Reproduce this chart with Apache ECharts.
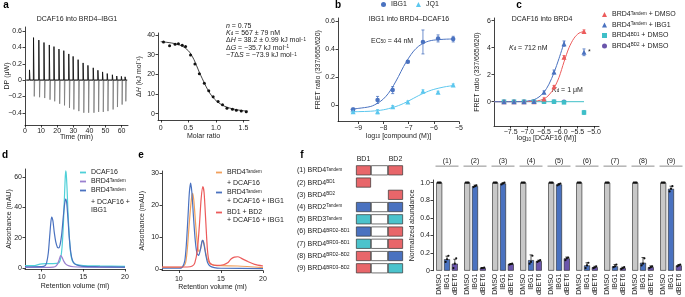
<!DOCTYPE html>
<html><head><meta charset="utf-8">
<script src="https://cdn.jsdelivr.net/npm/echarts@6/dist/echarts.min.js"></script>
<style>html,body{margin:0;padding:0;background:#fff}#c{width:685px;height:297px}</style>
</head><body><div id="c"></div>
<script>
// ================= DATA =================
// a (left): ITC raw trace, injections
const itcStart = 0.8, itcEnd = 63.5;
const itcInjTime = [2.7, 5.2, 8.5, 11.7, 15.0, 17.9, 21.0, 24.0, 27.1, 29.8, 32.9, 36.0, 39.0, 42.3, 45.2, 48.1, 51.0, 54.2, 56.9, 59.8, 62.1];
const itcUp = [0.125, 0.52, 0.49, 0.46, 0.43, 0.41, 0.38, 0.36, 0.32, 0.29, 0.25, 0.21, 0.18, 0.15, 0.12, 0.10, 0.08, 0.065, 0.05, 0.045, 0.04];
const itcDown = [-0.02, -0.20, -0.21, -0.22, -0.24, -0.26, -0.29, -0.31, -0.34, -0.36, -0.38, -0.40, -0.40, -0.40, -0.39, -0.39, -0.38, -0.36, -0.33, -0.30, -0.26];
// a (right): integrated heats
const dhRatio = [0.05, 0.16, 0.26, 0.32, 0.39, 0.45, 0.54, 0.62, 0.70, 0.79, 0.87, 0.95, 1.04, 1.12, 1.20, 1.30, 1.37, 1.46, 1.55];
const dhValue = [36.4, 34.5, 35.3, 35.5, 34.8, 34.1, 29.8, 25.2, 20.3, 15.5, 11.7, 8.6, 6.2, 4.5, 2.8, 2.2, 1.7, 1.4, 1.0];
const dhFitRatio = [0, 0.1, 0.2, 0.3, 0.4, 0.5, 0.55, 0.6, 0.65, 0.7, 0.75, 0.8, 0.85, 0.9, 0.95, 1.0, 1.1, 1.2, 1.3, 1.4, 1.5, 1.58];
const dhFitValue = [36.6, 36.3, 35.9, 35.3, 34.2, 32.0, 30.1, 27.6, 24.4, 21.0, 18.0, 15.0, 12.3, 10.0, 8.2, 6.7, 4.6, 3.3, 2.5, 1.9, 1.5, 1.3];
// b: TR-FRET, IBG1 / JQ1
const bLogConc = [-9.2, -8.23, -7.63, -7.03, -6.43, -5.83, -5.23];
const bIBG1 = [-0.03, 0.038, 0.108, 0.31, 0.45, 0.475, 0.47];
const bIBG1Err = [0.01, 0.025, 0.025, 0.008, 0.085, 0.025, 0.02];
const bJQ1 = [-0.045, -0.045, -0.01, 0.023, 0.10, 0.092, 0.144];
const bJQ1Err = [0.008, 0.015, 0.008, 0.008, 0.01, 0.008, 0.008];
const bFitX = [-9.3, -9.0, -8.5, -8.2, -8.0, -7.8, -7.6, -7.4, -7.2, -7.0, -6.8, -6.6, -6.4, -6.2, -6.0, -5.6, -5.23];
const bIBG1Fit = [-0.028, -0.022, -0.008, 0.018, 0.045, 0.085, 0.14, 0.205, 0.275, 0.335, 0.385, 0.42, 0.442, 0.456, 0.463, 0.469, 0.471];
const bJQ1Fit = [-0.046, -0.045, -0.042, -0.037, -0.032, -0.024, -0.014, -0.002, 0.013, 0.031, 0.05, 0.069, 0.086, 0.101, 0.113, 0.13, 0.14];
// c: TR-FRET, DCAF16 titration
const cLogConc = [-7.7, -7.4, -7.1, -6.8, -6.5, -6.2, -5.9, -5.3];
const cTandemDMSO = [0, 0, 0, 0, 0.2, 1.1, 3.3, 5.2];
const cTandemDMSOErr = [0.05, 0.05, 0.05, 0.05, 0.08, 0.1, 0.12, 0.12];
const cTandemIBG1 = [0, 0, 0, 0.02, 0.7, 2.2, 4.3, 3.66];
const cTandemIBG1Err = [0.05, 0.05, 0.05, 0.05, 0.1, 0.15, 0.2, 0.25];
const cBD1 = [0, 0, 0, 0, 0, 0, -0.05, -0.8];
const cBD1Err = [0.04, 0.04, 0.04, 0.04, 0.04, 0.04, 0.05, 0.15];
const cBD2 = [0, 0, 0, 0, 0, 0, 0, null];
const cFitDMSOX = [-8, -6.9, -6.7, -6.5, -6.35, -6.2, -6.05, -5.9, -5.75, -5.6, -5.45, -5.3];
const cFitDMSOY = [0, 0.01, 0.06, 0.2, 0.5, 1.0, 1.8, 2.95, 4.0, 4.7, 5.08, 5.2];
const cFitIBG1X = [-8, -7.2, -7.0, -6.8, -6.65, -6.5, -6.35, -6.2, -6.05, -5.88];
const cFitIBG1Y = [0, 0.01, 0.05, 0.15, 0.35, 0.7, 1.3, 2.15, 3.2, 4.5];
const cFitBD1X = [-8, -5.3];
const cFitBD1Y = [0, 0];
// d: SEC traces
const dX_DCAF16 = [8, 9, 9.8, 10.5, 11.2, 11.8, 12.1, 12.3, 12.45, 12.6, 12.7, 12.8, 12.88, 12.95, 13.05, 13.15, 13.3, 13.45, 13.6, 13.8, 14.2, 15, 17, 20];
const dY_DCAF16 = [1.5, 1.5, 2.5, 2.8, 2.9, 3.0, 3.5, 7, 14, 28, 42, 56, 64, 62, 52, 38, 22, 11, 6, 3.5, 2.2, 1.6, 1.3, 1.0];
const dX_BRD4 = [8, 11, 11.6, 11.9, 12.1, 12.28, 12.45, 12.65, 12.9, 13.2, 13.8, 15, 20];
const dY_BRD4 = [0.3, 0.4, 0.8, 2.5, 5.5, 8.1, 7.0, 4.5, 2.5, 1.5, 0.8, 0.5, 0.3];
const dX_Complex = [8, 10, 10.4, 10.6, 10.8, 10.95, 11.1, 11.2, 11.35, 11.5, 11.7, 11.9, 12.05, 12.2, 12.4, 12.6, 12.75, 12.88, 13.0, 13.15, 13.3, 13.5, 13.7, 14, 14.5, 15, 17, 20];
const dY_Complex = [0.8, 0.9, 1.5, 3.5, 10, 20, 30, 33.6, 31, 24, 17, 13.5, 13.2, 15, 22, 34, 42, 45.5, 43, 33, 21, 10, 5, 2.5, 1.5, 1.0, 0.8, 0.5];
// e: SEC traces
const eX_Tandem = [8, 10, 10.5, 10.8, 11.0, 11.2, 11.4, 11.55, 11.65, 11.8, 12.0, 12.2, 12.4, 12.6, 12.75, 12.85, 13.0, 13.2, 13.4, 13.7, 14.2, 15, 17, 20];
const eY_Tandem = [0.6, 0.6, 0.8, 2, 6, 13, 19.5, 23, 23.7, 21, 14, 8, 5.5, 6.5, 8.5, 9, 8, 5, 3, 1.8, 1.3, 1.1, 1.0, 0.5];
const eX_TandemIBG1 = [8, 10, 10.4, 10.7, 10.9, 11.1, 11.25, 11.4, 11.55, 11.75, 11.95, 12.15, 12.35, 12.55, 12.75, 12.85, 13.0, 13.2, 13.4, 13.7, 14.2, 15, 20];
const eY_TandemIBG1 = [0.3, 0.3, 0.6, 2.5, 8, 17, 24, 26.9, 24, 16, 9, 5, 4.3, 6, 8.7, 9, 7.5, 4.5, 2.2, 1, 0.5, 0.3, 0.2];
const eX_BD = [8, 11, 11.6, 11.9, 12.2, 12.45, 12.65, 12.85, 13.0, 13.2, 13.4, 13.6, 13.9, 14.5, 15.3, 15.8, 16.2, 16.6, 17.0, 17.5, 18.2, 19, 20];
const eY_BD = [0.7, 0.7, 1, 2, 6, 14, 22, 25.8, 24, 15, 6, 2.5, 1.5, 1.2, 1.4, 2.0, 3.2, 3.8, 3.9, 3.3, 2.4, 1.5, 1.0];
// f: constructs and degradation
const fRowNames = ['(1) BRD4^Tandem', '(2) BRD4^BD1', '(3) BRD4^BD2', '(4) BRD2^Tandem', '(5) BRD3^Tandem', '(6) BRD4^BRD2–BD1', '(7) BRD4^BRD3–BD1', '(8) BRD4^BRD2–BD2', '(9) BRD4^BRD3–BD2'];
const fRowBD1 = ['red', 'red', null, 'blue', 'cyan', 'blue', 'cyan', 'red', 'red'];
const fRowBD2 = ['red', null, 'red', 'blue', 'cyan', 'red', 'red', 'blue', 'cyan'];
const fGroups = ['(1)', '(2)', '(3)', '(4)', '(5)', '(6)', '(7)', '(8)', '(9)'];
const fConditions = ['DMSO', 'IBG1', 'dBET6'];
const fDMSO = [1, 1, 1, 1, 1, 1, 1, 1, 1];
const fDMSOErr = [0.004, 0.004, 0.004, 0.004, 0.004, 0.004, 0.004, 0.004, 0.004];
const fDMSOReps = [[1, 1, 1], [1, 1, 1], [1, 1, 1], [1, 1, 1], [1, 1, 1], [1, 1, 1], [1, 1, 1], [1, 1, 1], [1, 1, 1]];
const fIBG1 = [0.13, 0.96, 0.99, 0.12, 0.98, 0.06, 0.05, 0.09, 0.93];
const fIBG1Err = [0.035, 0.012, 0.01, 0.06, 0.01, 0.03, 0.02, 0.06, 0.03];
const fIBG1Reps = [[0.10, 0.13, 0.17], [0.95, 0.96, 0.97], [0.98, 0.99, 1.0], [0.08, 0.10, 0.17], [0.97, 0.98, 0.99], [0.03, 0.06, 0.09], [0.04, 0.05, 0.07], [0.06, 0.08, 0.14], [0.90, 0.93, 0.96]];
const fdBET6 = [0.08, 0.03, 0.075, 0.11, 0.14, 0.04, 0.03, 0.04, 0.06];
const fdBET6Err = [0.05, 0.004, 0.004, 0.01, 0.015, 0.01, 0.01, 0.015, 0.01];
const fdBET6Reps = [[0.03, 0.08, 0.14], [0.03, 0.03, 0.035], [0.07, 0.075, 0.08], [0.10, 0.11, 0.12], [0.12, 0.14, 0.15], [0.03, 0.035, 0.05], [0.02, 0.03, 0.04], [0.03, 0.04, 0.05], [0.05, 0.06, 0.07]];

// ================= STYLE / BUILD =================
const F = '"Liberation Sans", Arial, Helvetica, sans-serif';
const TXT = '#222';
const AXC = '#111';
const C = {
  blue: '#4a72c0', light: '#5cc7ee', red: '#ec5b5b', cyan: '#3fbfc8', purple: '#6a55ab',
  dCyan: '#4fd0d8', dPurple: '#9a80cf', orange: '#f2a05c', grey: '#c8c8c8',
  sRed: '#e8666a', sBlue: '#4a72c0', sCyan: '#4bc3cc'
};
const supRich = { sup: { fontSize: 4.5, verticalAlign: 'top', fontFamily: F, color: TXT } };
const sup = s => s.replace(/\^(\S+)/g, '{sup|$1}');
const minusFmt = d => v => (v === 0 ? '0' : (v < 0 ? '−' : '') + Math.abs(v).toFixed(d));

function merge(a, b) {
  const o = Object.assign({}, a);
  for (const k in b) {
    if (b[k] && typeof b[k] === 'object' && !Array.isArray(b[k]) && a[k] && typeof a[k] === 'object') o[k] = merge(a[k], b[k]);
    else o[k] = b[k];
  }
  return o;
}
function vAxis(grid, min, max, ticks, fmt, extra) {
  return merge({
    type: 'value', gridIndex: grid, min, max, nameMoveOverlap: false,
    axisLine: { show: true, onZero: false, lineStyle: { color: AXC, width: 0.8 } },
    axisTick: { show: true, length: 2.5, customValues: ticks, lineStyle: { color: AXC, width: 0.8 } },
    axisLabel: { customValues: ticks, formatter: fmt, fontSize: 7, color: TXT, margin: 3, fontFamily: F },
    splitLine: { show: false },
    nameLocation: 'middle',
    nameTextStyle: { fontSize: 7, color: TXT, fontFamily: F, rich: { sub: { fontSize: 4.5, verticalAlign: 'bottom', fontFamily: F, color: TXT }, i: { fontStyle: 'italic', fontSize: 7, fontFamily: F, color: TXT } } }
  }, extra || {});
}
const zip = (xs, ys) => xs.map((x, i) => [x, ys[i]]).filter(p => p[1] != null);
const zip3 = (xs, ys, es) => xs.map((x, i) => [x, ys[i], es[i]]).filter(p => p[1] != null);

// raw ITC trace: exothermic/endothermic excursions drawn as separate strokes
function itcTrace(peaks, offset) {
  const d = [[itcStart, 0]];
  itcInjTime.forEach((t, i) => { d.push([t + offset, 0], [t + offset + 0.1, peaks[i]], [t + offset + 0.4, 0]); });
  d.push([itcEnd, 0]);
  return d;
}
function errBars(capHalf) {
  return function (params, api) {
    const x = api.value(0), y = api.value(1), e = api.value(2);
    const t = api.coord([x, y + e]), b = api.coord([x, y - e]);
    const st = { stroke: api.visual('color'), lineWidth: 0.8 };
    return { type: 'group', children: [
      { type: 'line', shape: { x1: t[0], y1: t[1], x2: b[0], y2: b[1] }, style: st },
      { type: 'line', shape: { x1: t[0] - capHalf, y1: t[1], x2: t[0] + capHalf, y2: t[1] }, style: st },
      { type: 'line', shape: { x1: b[0] - capHalf, y1: b[1], x2: b[0] + capHalf, y2: b[1] }, style: st }
    ] };
  };
}
const lineS = (name, xi, data, color, w, extra) => merge({
  type: 'line', name, xAxisIndex: xi, yAxisIndex: xi, data, symbol: 'none', showSymbol: false,
  lineStyle: { color, width: w }, itemStyle: { color }, z: 2, silent: true
}, extra || {});
const scatS = (name, xi, data, color, symbol, size, extra) => merge({
  type: 'scatter', name, xAxisIndex: xi, yAxisIndex: xi, data, symbol, symbolSize: size,
  itemStyle: { color, opacity: 1 }, z: 4, silent: true
}, extra || {});
const errS = (name, xi, data, color, cap) => ({
  type: 'custom', name, xAxisIndex: xi, yAxisIndex: xi, data, renderItem: errBars(cap),
  itemStyle: { color }, encode: { x: 0, y: 1 }, z: 3, silent: true
});

// f bars layout
const fBarW = 6, fBarGap = 0.3, fStep = fBarW * (1 + fBarGap);
const fCondVals = [fDMSO, fIBG1, fdBET6], fCondErr = [fDMSOErr, fIBG1Err, fdBET6Err], fCondReps = [fDMSOReps, fIBG1Reps, fdBET6Reps];
const fCondColor = [C.grey, C.blue, C.purple];
const fOverlayData = [];
fCondVals.forEach((vals, k) => vals.forEach((v, c) => {
  fOverlayData.push([c, v, fCondErr[k][c], k - 1].concat(fCondReps[k][c]));
}));
const jitter = [-1.4, 0, 1.4];
function fErrRender(params, api) {
  const c = api.value(0), m = api.value(1), e = api.value(2), k = api.value(3);
  const t = api.coord([c, m + e]), b = api.coord([c, Math.max(m - e, 0)]);
  const x = t[0] + k * fStep;
  const st = { stroke: '#111', lineWidth: 0.7 };
  return { type: 'group', children: [
    { type: 'line', shape: { x1: x, y1: t[1], x2: x, y2: b[1] }, style: st },
    { type: 'line', shape: { x1: x - 1.5, y1: t[1], x2: x + 1.5, y2: t[1] }, style: st }
  ] };
}
function fDotRender(params, api) {
  const c = api.value(0), k = api.value(3);
  const ch = [];
  for (let j = 0; j < 3; j++) {
    const p = api.coord([c, api.value(4 + j)]);
    ch.push({ type: 'circle', shape: { cx: p[0] + k * fStep + jitter[j], cy: p[1], r: 1.1 }, style: { fill: '#111' } });
  }
  return { type: 'group', children: ch };
}
// schematic stacked segments
const schemColor = { red: C.sRed, blue: C.sBlue, cyan: C.sCyan };
const domLen = { bd: 15, linker: 17 };
const hidden = { color: 'rgba(0,0,0,0)', borderWidth: 0 };
const segStyle = col => ({ color: col, borderColor: '#333', borderWidth: 0.7 });
const schemBD1 = fRowBD1.map(c => ({ value: domLen.bd, itemStyle: c ? segStyle(schemColor[c]) : hidden }));
const schemLink = fRowBD1.map((c, i) => ({ value: domLen.linker, itemStyle: (c && fRowBD2[i]) ? segStyle('#fff') : hidden }));
const schemBD2 = fRowBD2.map(c => ({ value: domLen.bd, itemStyle: c ? segStyle(schemColor[c]) : hidden }));

// legends text
const cLegendNames = ['BRD4^Tandem + DMSO', 'BRD4^Tandem + IBG1', 'BRD4^BD1 + DMSO', 'BRD4^BD2 + DMSO'];
const dLegendLines = [['DCAF16'], ['BRD4^Tandem'], ['BRD4^Tandem', '+ DCAF16 +', 'IBG1']];
const eLegendLines = [['BRD4^Tandem', '+ DCAF16'], ['BRD4^Tandem', '+ DCAF16 + IBG1'], ['BD1 + BD2', '+ DCAF16 + IBG1']];
const dNames = dLegendLines.map(l => 'd: ' + l.join(' '));
const eNames = eLegendLines.map(l => 'e: ' + l.join(' '));
const firstLine = name => { const all = dNames.concat(eNames), lines = dLegendLines.concat(eLegendLines); return sup(lines[all.indexOf(name)][0]); };

const T = (x, y, text, extra) => ({ type: 'text', x, y, silent: true, style: merge({ text, fontSize: 7, fontFamily: F, fill: TXT, align: 'left', verticalAlign: 'middle',
  rich: { i: { fontStyle: 'italic', fontSize: 7, fontFamily: F, fill: TXT }, sub: { fontSize: 4.5, verticalAlign: 'bottom', fontFamily: F, fill: TXT }, sup: { fontSize: 4.5, verticalAlign: 'top', fontFamily: F, fill: TXT } } }, extra || {}) });
const L = (x, y, t) => T(x, y, t, { fontSize: 10, fontWeight: 'bold', fill: '#000', align: 'center' });

const gridBase = { containLabel: false, outerBoundsMode: 'none' };
const option = {
  animation: false,
  textStyle: { fontFamily: F },
  grid: [
    merge(gridBase, { left: 25, top: 27, width: 103, height: 98 }),
    merge(gridBase, { left: 158, top: 33, width: 91, height: 87 }),
    merge(gridBase, { left: 338, top: 18, width: 121, height: 103.5 }),
    merge(gridBase, { left: 494, top: 18, width: 105, height: 108 }),
    merge(gridBase, { left: 25, top: 169, width: 100, height: 100 }),
    merge(gridBase, { left: 162, top: 171, width: 101, height: 99.5 }),
    merge(gridBase, { left: 356, top: 164.2, width: 47, height: 110.2 }),
    merge(gridBase, { left: 433, top: 180, width: 252, height: 90.7 })
  ],
  xAxis: [
    vAxis(0, 0, 64, [0, 10, 20, 30, 40, 50, 60], v => String(v), { name: 'Time (min)', nameGap: 9 }),
    vAxis(1, -0.05, 1.6, [0, 0.5, 1, 1.5], v => (v === 0 ? '0' : v.toFixed(1)), { name: 'Molar ratio', nameGap: 13, axisLabel: { margin: 5 } }),
    vAxis(2, -9.8, -5, [-9, -8, -7, -6, -5], minusFmt(0), { name: 'log{sub|10} [compound (M)]', nameGap: 11 }),
    vAxis(3, -8, -4.85, [-7.5, -7, -6.5, -6, -5.5, -5], minusFmt(1), { name: 'log{sub|10} [DCAF16 (M)]', nameGap: 9 }),
    vAxis(4, 8, 20, [10, 15, 20], v => String(v), { name: 'Retention volume (ml)', nameGap: 14, axisLabel: { margin: 5 } }),
    vAxis(5, 8, 20, [10, 15, 20], v => String(v), { name: 'Retention volume (ml)', nameGap: 13, axisLabel: { margin: 5 } }),
    { type: 'value', gridIndex: 6, min: 0, max: 47, show: false },
    { type: 'category', gridIndex: 7, data: fGroups, show: false },
    { type: 'category', gridIndex: 7, data: fGroups, position: 'top', axisLine: { show: false }, axisTick: { show: false },
      axisLabel: { interval: 0, margin: 13, formatter: v => '{n|' + v + '}\n{l|}',
        rich: { n: { fontSize: 7, fontFamily: F, color: TXT, lineHeight: 9 }, l: { width: 23, height: 1.6, backgroundColor: '#b8b8b8' } } } }
  ],
  yAxis: [
    vAxis(0, -0.55, 0.65, [-0.4, -0.2, 0, 0.2, 0.4, 0.6], minusFmt(1), { name: 'DP (μW)', nameGap: 14 }),
    vAxis(1, -3.2, 41, [0, 10, 20, 30, 40], v => String(v), { name: 'Δ{i|H} (kJ mol⁻¹)', nameGap: 15 }),
    vAxis(2, -0.115, 0.62, [0, 0.2, 0.4, 0.6], v => (v === 0 ? '0' : v.toFixed(1)), { name: 'FRET ratio (337/665/620)', nameGap: 16 }),
    vAxis(3, -1.8, 6.2, [0, 2, 4, 6], v => String(v), { name: 'FRET ratio (337/665/620)', nameGap: 13 }),
    vAxis(4, -0.7, 65.3, [0, 20, 40, 60], v => String(v), { name: 'Absorbance (mAU)', nameGap: 12 }),
    vAxis(5, -0.4, 30.7, [0, 10, 20, 30], v => String(v), { name: 'Absorbance (mAU)', nameGap: 16 }),
    { type: 'category', gridIndex: 6, data: fRowNames, inverse: true, axisLine: { show: false }, axisTick: { show: false },
      axisLabel: { align: 'left', margin: 59, fontSize: 7, color: TXT, fontFamily: F, formatter: v => sup(v), rich: supRich } },
    vAxis(7, 0, 1.03, [0, 0.2, 0.4, 0.6, 0.8, 1.0], v => (v === 0 ? '0' : v.toFixed(1)), { name: 'Normalized abundance', nameGap: 17 })
  ],
  legend: [
    { left: 381, top: 1, padding: 0, itemWidth: 5, itemHeight: 5, itemGap: 9, selectedMode: false,
      textStyle: { fontSize: 7, color: TXT, fontFamily: F }, data: [{ name: 'IBG1', icon: 'circle' }, { name: 'JQ1', icon: 'triangle' }] },
    { left: 602, top: 11, orient: 'vertical', padding: 0, itemWidth: 5, itemHeight: 5, itemGap: 3.5, selectedMode: false,
      textStyle: { fontSize: 7, color: TXT, fontFamily: F, rich: supRich }, formatter: n => sup(n),
      data: [{ name: cLegendNames[0], icon: 'triangle' }, { name: cLegendNames[1], icon: 'triangle' }, { name: cLegendNames[2], icon: 'rect' }, { name: cLegendNames[3], icon: 'circle' }] },
    { left: 80, top: 169, orient: 'vertical', padding: 0, itemWidth: 6, itemHeight: 1.8, itemGap: 2, selectedMode: false,
      textStyle: { fontSize: 7, color: TXT, fontFamily: F, rich: supRich }, formatter: firstLine, data: dNames.map(n => ({ name: n, icon: 'rect' })) },
    { left: 216, top: 169, orient: 'vertical', padding: 0, itemWidth: 6, itemHeight: 1.8, itemGap: 13, selectedMode: false,
      textStyle: { fontSize: 7, color: TXT, fontFamily: F, rich: supRich }, formatter: firstLine, data: eNames.map(n => ({ name: n, icon: 'rect' })) }
  ],
  graphic: [
    L(6, 5, 'a'), L(338, 5, 'b'), L(519, 5, 'c'), L(5, 155, 'd'), L(141, 155, 'e'), L(302, 155, 'f'),
    T(77, 19, 'DCAF16 into BRD4–IBG1', { align: 'center' }),
    T(226, 25.7, '{i|n} = 0.75'),
    T(226, 33.1, '{i|K}{sub|d} = 567 ± 79 nM'),
    T(226, 40.5, 'Δ{i|H} = 38.2 ± 0.99 kJ mol{sup|−1}'),
    T(226, 47.9, 'Δ{i|G} = −35.7 kJ mol{sup|−1}'),
    T(226, 55.3, '−{i|T}Δ{i|S} = −73.9 kJ mol{sup|−1}'),
    T(409, 19, 'IBG1 into BRD4–DCAF16', { align: 'center' }),
    T(371, 41, 'EC{sub|50} = 44 nM'),
    T(542, 19, 'DCAF16 into BRD4', { align: 'center' }),
    T(509, 48, '{i|K}{sub|d} = 712 nM'),
    T(552, 90, '{i|K}{sub|d} = 1 μM'),
    T(588, 52, '*'),
    T(363.5, 159.5, 'BD1', { align: 'center' }),
    T(395.5, 159.5, 'BD2', { align: 'center' }),
    T(91, 201.7, dLegendLines[2][1]), T(91, 210, dLegendLines[2][2]),
    T(227, 182.7, eLegendLines[0][1]), T(227, 200.7, eLegendLines[1][1]), T(227, 220, eLegendLines[2][1])
  ],
  series: [
    // a
    lineS('itcDown', 0, itcTrace(itcDown, 0.45), '#7a7a7a', 0.8),
    lineS('itcUp', 0, itcTrace(itcUp, 0), '#111', 0.9),
    lineS('dhFit', 1, zip(dhFitRatio, dhFitValue), '#111', 0.8, { smooth: 0.3 }),
    scatS('dh', 1, zip(dhRatio, dhValue), '#111', 'circle', 3),
    // b
    lineS('bFitIBG1', 2, zip(bFitX, bIBG1Fit), C.blue, 1, { smooth: 0.3 }),
    lineS('bFitJQ1', 2, zip(bFitX, bJQ1Fit), C.light, 1, { smooth: 0.3 }),
    errS('bErrIBG1', 2, zip3(bLogConc, bIBG1, bIBG1Err), C.blue, 1.5),
    errS('bErrJQ1', 2, zip3(bLogConc, bJQ1, bJQ1Err), C.light, 1.5),
    scatS('IBG1', 2, zip(bLogConc, bIBG1), C.blue, 'circle', 4.5),
    scatS('JQ1', 2, zip(bLogConc, bJQ1), C.light, 'triangle', 5),
    // c
    lineS('cFitBD1', 3, zip(cFitBD1X, cFitBD1Y), C.cyan, 1),
    lineS('cFitDMSO', 3, zip(cFitDMSOX, cFitDMSOY), C.red, 1, { smooth: 0.3 }),
    lineS('cFitIBG1', 3, zip(cFitIBG1X, cFitIBG1Y), C.blue, 1, { smooth: 0.3 }),
    errS('cErrDMSO', 3, zip3(cLogConc, cTandemDMSO, cTandemDMSOErr), C.red, 1.5),
    errS('cErrIBG1', 3, zip3(cLogConc, cTandemIBG1, cTandemIBG1Err), C.blue, 1.5),
    errS('cErrBD1', 3, zip3(cLogConc, cBD1, cBD1Err), C.cyan, 1.5),
    scatS(cLegendNames[3], 3, zip(cLogConc, cBD2), C.purple, 'circle', 4.5),
    scatS(cLegendNames[2], 3, zip(cLogConc, cBD1), C.cyan, 'rect', 4.5),
    scatS(cLegendNames[0], 3, zip(cLogConc, cTandemDMSO), C.red, 'triangle', 5),
    scatS(cLegendNames[1], 3, zip(cLogConc, cTandemIBG1), C.blue, 'triangle', 5),
    // d
    lineS(dNames[0], 4, zip(dX_DCAF16, dY_DCAF16), C.dCyan, 1.2, { smooth: 0.25 }),
    lineS(dNames[1], 4, zip(dX_BRD4, dY_BRD4), C.dPurple, 1.2, { smooth: 0.25 }),
    lineS(dNames[2], 4, zip(dX_Complex, dY_Complex), C.blue, 1.2, { smooth: 0.25 }),
    // e
    lineS(eNames[0], 5, zip(eX_Tandem, eY_Tandem), C.orange, 1.2, { smooth: 0.25 }),
    lineS(eNames[1], 5, zip(eX_TandemIBG1, eY_TandemIBG1), C.blue, 1.2, { smooth: 0.25 }),
    lineS(eNames[2], 5, zip(eX_BD, eY_BD), C.red, 1.2, { smooth: 0.25 }),
    // f schematic
    { type: 'bar', name: 'sBD1', xAxisIndex: 6, yAxisIndex: 6, stack: 'dom', barWidth: 10, data: schemBD1, silent: true },
    { type: 'bar', name: 'sLink', xAxisIndex: 6, yAxisIndex: 6, stack: 'dom', barWidth: 10, data: schemLink, silent: true },
    { type: 'bar', name: 'sBD2', xAxisIndex: 6, yAxisIndex: 6, stack: 'dom', barWidth: 10, data: schemBD2, silent: true },
    // f bars
    { type: 'custom', name: 'fErr', xAxisIndex: 7, yAxisIndex: 7, data: fOverlayData, renderItem: fErrRender, encode: { x: 0, y: 1 }, z: 1, silent: true },
  ].concat(fCondVals.map((vals, k) => ({
    type: 'bar', name: 'f' + fConditions[k], xAxisIndex: 7, yAxisIndex: 7, data: vals, barWidth: fBarW, barGap: (fBarGap * 100) + '%', z: 2, silent: true,
    itemStyle: { color: fCondColor[k], borderColor: '#222', borderWidth: 0.6 },
    label: { show: true, position: 'bottom', distance: 3, rotate: 90, align: 'right', verticalAlign: 'middle', formatter: () => fConditions[k], fontSize: 7, color: TXT, fontFamily: F }
  }))).concat([
    { type: 'custom', name: 'fDots', xAxisIndex: 7, yAxisIndex: 7, data: fOverlayData, renderItem: fDotRender, encode: { x: 0, y: 1 }, z: 5, silent: true }
  ])
};
const chart = echarts.init(document.getElementById('c'), null, { renderer: 'canvas', width: 685, height: 297 });
chart.setOption(option);
</script>
</body></html>
